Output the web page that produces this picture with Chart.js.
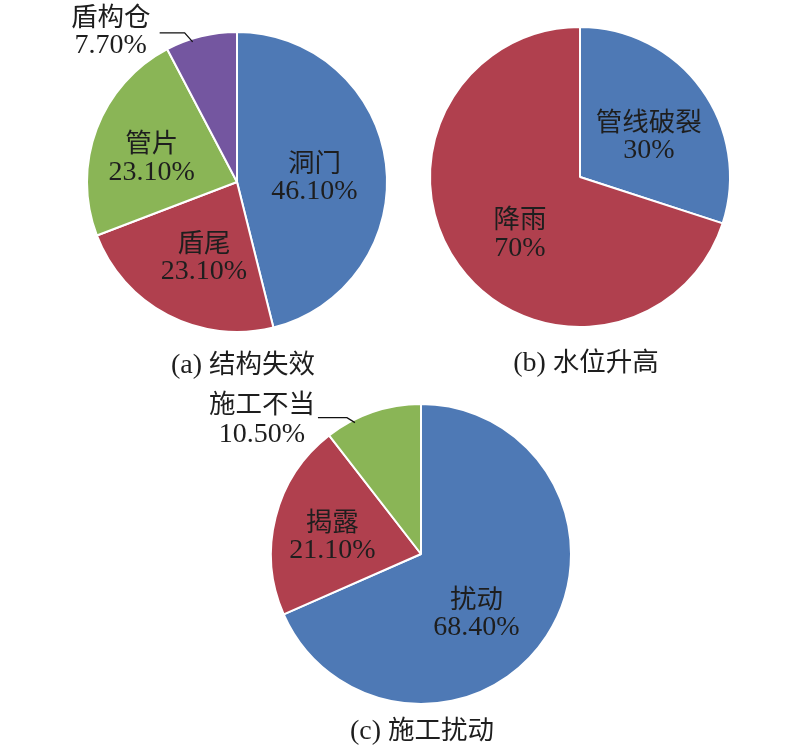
<!DOCTYPE html>
<html><head><meta charset="utf-8">
<script src="https://cdn.jsdelivr.net/npm/chart.js@4"></script>
<style>
body{margin:0;background:#fff;width:800px;height:748px;overflow:hidden;position:relative}
canvas{position:absolute;left:0;top:0}
.cap{position:absolute;font:28px "Liberation Serif","Noto Sans CJK SC";color:#1e1e1e;white-space:nowrap;transform:translate(-50%,-50%)}
.cap span{font-size:26.5px}
</style></head><body>
<canvas id="ca" width="800" height="748"></canvas>
<canvas id="cb" width="800" height="748"></canvas>
<canvas id="cc" width="800" height="748"></canvas>
<div class="cap" style="left:243px;top:361px">(a) <span>结构失效</span></div>
<div class="cap" style="left:586px;top:359px">(b) <span>水位升高</span></div>
<div class="cap" style="left:422px;top:727px">(c) <span>施工扰动</span></div>
<script>
const catsA = ['洞门','盾尾','管片','盾构仓'];
const valsA = [46.1, 23.1, 23.1, 7.7];
const pctA = ['46.10%','23.10%','23.10%','7.70%'];
const catsB = ['管线破裂','降雨'];
const valsB = [30, 70];
const pctB = ['30%','70%'];
const catsC = ['扰动','揭露','施工不当'];
const valsC = [68.4, 21.1, 10.5];
const pctC = ['68.40%','21.10%','10.50%'];

const BLUE='#4E79B5', RED='#B0404E', GREEN='#8AB556', PURPLE='#7456A0';
const FONT_CJK = '26.5px "Noto Sans CJK SC"';
const FONT_NUM = '28px "Liberation Serif"';

const labelPlugin = {
  id:'sliceLabels',
  afterDatasetsDraw(chart, args, opts){
    const ctx = chart.ctx;
    const meta = chart.getDatasetMeta(0);
    const cats = chart.data.labels;
    const place = opts.place, pct = opts.pct;
    ctx.save();
    ctx.fillStyle = '#1e1e1e';
    ctx.textAlign = 'center'; ctx.textBaseline = 'middle';
    const two = (t1, t2, x, y1, y2) => {
      ctx.font = FONT_CJK; ctx.fillText(t1, x, y1);
      ctx.font = FONT_NUM; ctx.fillText(t2, x, y2);
    };
    meta.data.forEach((arc, i) => {
      const p = arc.getProps(['x','y','startAngle','endAngle','outerRadius'], true);
      const pl = place[i];
      const a = (p.startAngle + p.endAngle) / 2 + pl.dA * Math.PI / 180;
      if (!pl.outer) {
        const cx = p.x + Math.cos(a) * p.outerRadius * pl.r;
        const cy = p.y + Math.sin(a) * p.outerRadius * pl.r;
        two(cats[i], pct[i], cx, cy - 11, cy + 19);
      } else {
        const ex = p.x + Math.cos(a) * p.outerRadius * 0.98;
        const ey = p.y + Math.sin(a) * p.outerRadius * 0.98;
        const bx = ex + pl.ex, by = ey + pl.ey;
        const sx = bx - pl.len;
        ctx.beginPath(); ctx.moveTo(sx, by); ctx.lineTo(bx, by); ctx.lineTo(ex, ey);
        ctx.strokeStyle = '#111'; ctx.lineWidth = 1.3; ctx.stroke();
        two(cats[i], pct[i], bx + pl.tx, by + pl.ty1, by + pl.ty2);
      }
    });
    ctx.restore();
  }
};

function makePie(id, cats, vals, colors, pct, place, pad){
  return new Chart(document.getElementById(id), {
    type: 'pie',
    data: { labels: cats, datasets: [{ data: vals, backgroundColor: colors, borderColor: '#fff', borderWidth: 2, hoverOffset: 0 }] },
    options: {
      responsive: false, animation: false, events: [],
      layout: { padding: pad },
      plugins: { legend: { display: false }, tooltip: { enabled: false }, sliceLabels: { place: place, pct: pct } }
    },
    plugins: [labelPlugin]
  });
}

makePie('ca', catsA, valsA, [BLUE, RED, GREEN, PURPLE], pctA,
  [{r:0.52,dA:0},{r:0.52,dA:-2.5},{r:0.6,dA:-2},{outer:true,dA:-3.7,ex:-8,ey:-9,len:25,tx:-74,ty1:-17,ty2:13}],
  {left:86, top:31, right:412, bottom:415});
makePie('cb', catsB, valsB, [BLUE, RED], pctB,
  [{r:0.55,dA:2.5},{r:0.53,dA:-5}],
  {left:429, top:26, right:69, bottom:420});
makePie('cc', catsC, valsC, [BLUE, RED, GREEN], pctC,
  [{r:0.52,dA:11.5},{r:0.61,dA:0},{outer:true,dA:-7.8,ex:-8,ey:-5,len:29,tx:-85,ty1:-15,ty2:17}],
  {left:270, top:403, right:228, bottom:43});
</script>
</body></html>
